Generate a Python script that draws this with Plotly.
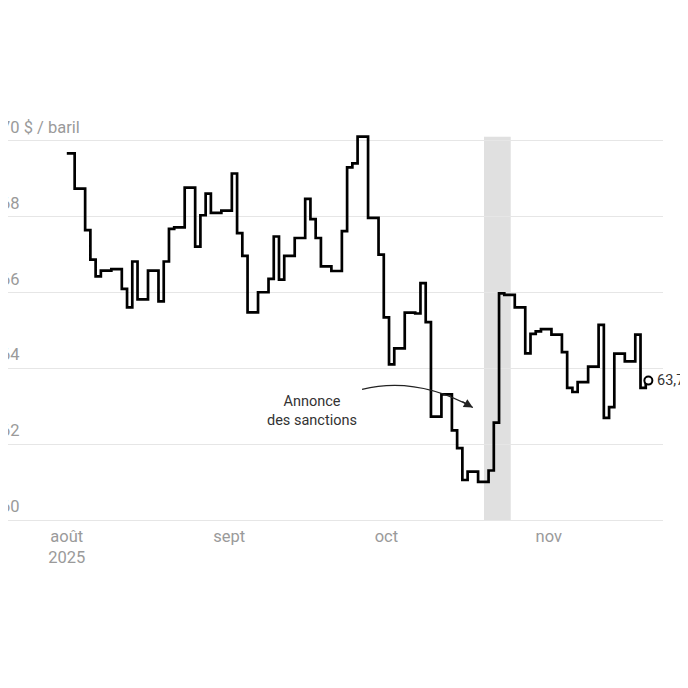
## Brent - cours quotidien, août à novembre 2025

import plotly.graph_objects as go

# Trading days and closing price ($ / baril)
dates = [
    "2025-08-01",
    "2025-08-04", "2025-08-05", "2025-08-06", "2025-08-07", "2025-08-08",
    "2025-08-11", "2025-08-12", "2025-08-13", "2025-08-14", "2025-08-15",
    "2025-08-18", "2025-08-19", "2025-08-20", "2025-08-21", "2025-08-22",
    "2025-08-25", "2025-08-26", "2025-08-27", "2025-08-28", "2025-08-29",
    "2025-09-01", "2025-09-02", "2025-09-03", "2025-09-04", "2025-09-05",
    "2025-09-08", "2025-09-09", "2025-09-10", "2025-09-11", "2025-09-12",
    "2025-09-15", "2025-09-16", "2025-09-17", "2025-09-18", "2025-09-19",
    "2025-09-22", "2025-09-23", "2025-09-24", "2025-09-25", "2025-09-26",
    "2025-09-29", "2025-09-30", "2025-10-01", "2025-10-02", "2025-10-03",
    "2025-10-06", "2025-10-07", "2025-10-08", "2025-10-09", "2025-10-10",
    "2025-10-13", "2025-10-14", "2025-10-15", "2025-10-16", "2025-10-17",
    "2025-10-20", "2025-10-21", "2025-10-22", "2025-10-23", "2025-10-24",
    "2025-10-27", "2025-10-28", "2025-10-29", "2025-10-30", "2025-10-31",
    "2025-11-03", "2025-11-04", "2025-11-05", "2025-11-06", "2025-11-07",
    "2025-11-10", "2025-11-11", "2025-11-12", "2025-11-13", "2025-11-14",
    "2025-11-17", "2025-11-18", "2025-11-19", "2025-11-20",
]
prices = [
    69.67,
    68.74, 67.65, 66.87, 66.43, 66.58,
    66.62, 66.10, 65.61, 66.82, 65.82,
    66.58, 65.77, 66.82, 67.68, 67.72,
    68.77, 67.21, 68.04, 68.61, 68.10,
    68.16, 69.14, 67.57, 66.97, 65.48,
    66.01, 66.36, 67.48, 66.34, 66.97,
    67.44, 68.47, 67.94, 67.44, 66.69,
    66.57, 67.62, 69.30, 69.41, 70.11,
    67.97, 67.00, 65.35, 64.11, 64.53,
    65.47, 65.45, 66.25, 65.22, 62.73,
    63.32, 62.37, 61.90, 61.06, 61.28,
    61.01, 61.31, 62.57, 65.98, 65.94,
    65.61, 64.40, 64.91, 64.98, 65.04,
    64.89, 64.43, 63.49, 63.38, 63.64,
    64.05, 65.15, 62.70, 62.98, 64.39,
    64.19, 64.89, 63.49, 63.68,
]

# Axis ticks
x_ticks = ["2025-08-01", "2025-09-01", "2025-10-01", "2025-11-01"]
x_tick_labels = ["août<br>2025", "sept", "oct", "nov"]
y_ticks = [60, 62, 64, 66, 68, 70]
y_tick_labels = ["60", "62", "64", "66", "68", "70 $ / baril"]

# Sanctions window (shaded)
band_start = "2025-10-19 15:00"
band_end = "2025-10-24 17:30"

grey = "#9a9a9a"
dark = "#333333"

fig = go.Figure()

# Step line
fig.add_trace(go.Scatter(
    x=dates, y=prices, mode="lines",
    line=dict(color="black", width=2.7, shape="hvh"),
    hoverinfo="skip", showlegend=False,
))

# End marker
fig.add_trace(go.Scatter(
    x=[dates[-1]], y=[prices[-1]], mode="markers",
    marker=dict(size=8, color="white", line=dict(color="black", width=2)),
    hoverinfo="skip", showlegend=False, cliponaxis=False,
))

# Shaded band
fig.add_shape(
    type="rect", xref="x", yref="y",
    x0=band_start, x1=band_end, y0=60, y1=max(prices),
    fillcolor="#e0e0e0", line_width=0, layer="below",
)

# Curved arrow towards the band
fig.add_shape(
    type="path", xref="x", yref="y",
    path="M 2025-09-26_08:30,63.45 Q 2025-10-06_18:00,63.80 2025-10-17_12:00,62.97",
    line=dict(color="#222222", width=1.2),
)
fig.add_annotation(
    x="2025-10-17 12:00", y=62.97, xref="x", yref="y",
    ax=-12, ay=-7, axref="pixel", ayref="pixel",
    text="", showarrow=True, arrowhead=2, arrowsize=1.5,
    arrowwidth=1.2, arrowcolor="#222222",
)
fig.add_annotation(
    x="2025-09-16 18:00", y=62.88, xref="x", yref="y",
    text="Annonce<br>des sanctions", showarrow=False,
    xanchor="center", yanchor="middle", align="center",
    font=dict(family="Roboto", size=14.5, color=dark),
)

# Last value label
fig.add_annotation(
    x=dates[-1], y=prices[-1], xref="x", yref="y",
    text=f"{prices[-1]:.1f} $".replace(".", ","), showarrow=False,
    xanchor="left", yanchor="middle", xshift=7,
    font=dict(family="Roboto", size=14.5, color=dark),
)

# Y tick labels sit above the gridlines, flush left (first digit cropped)
for v, lab in zip(y_ticks, y_tick_labels):
    fig.add_annotation(
        x=0, y=v, xref="paper", yref="y",
        text=lab, showarrow=False,
        xanchor="left", yanchor="bottom", xshift=-9, yshift=2,
        font=dict(family="Roboto", size=16.5, color=grey),
    )

# The page adds an 8px body margin, so the plot area is pulled up and left
# to land where the original sits, and the height keeps the page unscrolled
fig.update_layout(
    width=680, height=672,
    margin=dict(l=0, r=25, t=76, b=156),
    plot_bgcolor="white", paper_bgcolor="white",
    font=dict(family="Roboto", size=16.5, color=grey),
    xaxis=dict(
        type="date",
        range=["2025-07-20 18:40", "2025-11-22 19:00"],
        tickvals=x_ticks, ticktext=x_tick_labels,
        showgrid=False, zeroline=False, showline=False, ticks="",
        tickfont=dict(family="Roboto", size=16.5, color=grey),
    ),
    yaxis=dict(
        range=[59.9, 71.5],
        tickvals=y_ticks, showticklabels=False,
        showgrid=True, gridcolor="#e6e6e6", gridwidth=1,
        zeroline=False, showline=False, ticks="",
    ),
)

fig.write_html("out.html")
